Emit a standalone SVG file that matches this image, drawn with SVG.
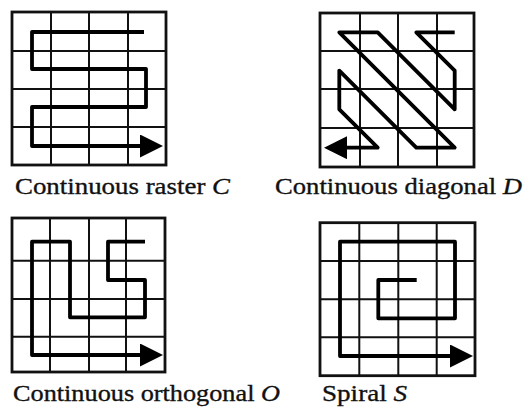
<svg xmlns="http://www.w3.org/2000/svg" width="526" height="411" viewBox="0 0 526 411">
<style>
.box{fill:none;stroke:#111;stroke-width:2.8}
.grid{fill:none;stroke:#111;stroke-width:2}
.scan{fill:none;stroke:#000;stroke-width:3.8;stroke-linejoin:round;marker-end:url(#arr)}
.lbl{font-family:"Liberation Serif","Times New Roman",serif;font-size:24px;fill:#111;stroke:#111;stroke-width:0.35}
.it{font-style:italic}
</style>
<defs>
<marker id="arr" markerUnits="userSpaceOnUse" markerWidth="23" markerHeight="23" viewBox="0 0 23 23" refX="1" refY="11.5" orient="auto">
<path d="M0,0 L23,11.5 L0,23 z" fill="#000"/>
</marker>
</defs>
<rect width="526" height="411" fill="#fff"/>
<g id="raster">
<rect class="box" x="12" y="12" width="154" height="153"/>
<path class="grid" d="M51,12V165M89,12V165M128,12V165M12,51H166M12,89H166M12,127H166"/>
<path class="scan" d="M144,32H32V69H146V107H32V146H141"/>
<text class="lbl" x="15" y="194" textLength="215" lengthAdjust="spacingAndGlyphs">Continuous raster <tspan class="it">C</tspan></text>
</g>
<g id="diagonal">
<rect class="box" x="320" y="13" width="154" height="154"/>
<path class="grid" d="M360,13V167M398,13V167M437,13V167M320,51H474M320,89H474M320,128H474"/>
<path class="scan" d="M454.7,32.3H416.3L454.7,70.7V109.3L377.7,32.3H339.3L454.7,147.7H416.3L339.3,70.7V109.3L377.7,147.7H346"/>
<text class="lbl" x="275" y="194" textLength="247" lengthAdjust="spacingAndGlyphs">Continuous diagonal <tspan class="it">D</tspan></text>
</g>
<g id="orthogonal">
<rect class="box" x="12" y="218" width="153" height="154"/>
<path class="grid" d="M50,218V372M89,218V372M126,218V372M12,260.7H165M12,299H165M12,336.7H165"/>
<path class="scan" d="M145,241.7H108V280H145V317.3H70V241.7H32V355H141"/>
<text class="lbl" x="13" y="401" textLength="267" lengthAdjust="spacingAndGlyphs">Continuous orthogonal <tspan class="it">O</tspan></text>
</g>
<g id="spiral">
<rect class="box" x="320" y="222.7" width="155" height="153"/>
<path class="grid" d="M359.3,222.7V375.7M398.3,222.7V375.7M436.7,222.7V375.7M320,261H475M320,299.3H475M320,337.3H475"/>
<path class="scan" d="M416.7,280H378.3V318.3H455V241.7H340V356H451"/>
<text class="lbl" x="322" y="401" textLength="85" lengthAdjust="spacingAndGlyphs">Spiral <tspan class="it">S</tspan></text>
</g>
</svg>
